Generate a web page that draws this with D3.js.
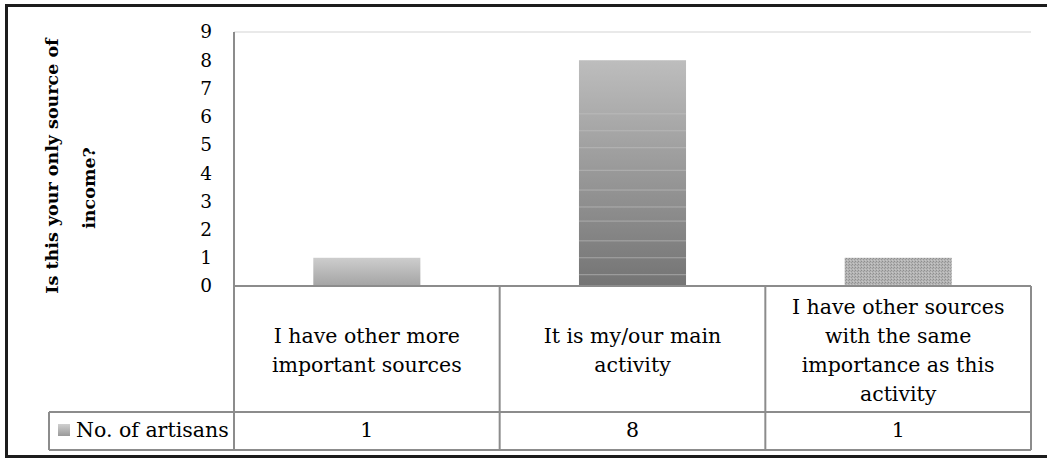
<!DOCTYPE html>
<html>
<head>
<meta charset="utf-8">
<script src="https://cdn.jsdelivr.net/npm/d3@7"></script>
<style>
  html, body { margin: 0; padding: 0; background: #fff; }
  svg { display: block; }
  text { font-family: "DejaVu Serif", "Liberation Serif", serif; fill: #000; }
</style>
</head>
<body>
<svg id="chart" width="1047" height="460"></svg>
<script>
// Survey answers and counts
const categories = [
  "I have other more important sources",
  "It is my/our main activity",
  "I have other sources with the same importance as this activity"
];
const categoryLines = [
  ["I have other more", "important sources"],
  ["It is my/our main", "activity"],
  ["I have other sources", "with the same", "importance as this", "activity"]
];
const artisans = [1, 8, 1];
const seriesName = "No. of artisans";
const yTickValues = [0, 1, 2, 3, 4, 5, 6, 7, 8, 9];
const yTitleLines = ["Is this your only source of", "income?"];

const svg = d3.select("#chart");
const defs = svg.append("defs");

// Plot geometry
const plot = { left: 234, right: 1031, top: 32, bottom: 286 };
const table = { catBottom: 412, bottom: 450, legendLeft: 49 };
const tableFont = 20.5;

const x = d3.scaleBand().domain(categories).range([plot.left, plot.right]).paddingInner(0).paddingOuter(0);
const y = d3.scaleLinear().domain([0, 9]).range([plot.bottom, plot.top]);
const barW = x.bandwidth() * 0.403;

// Bar fills
const g1 = defs.append("linearGradient").attr("id", "fill0").attr("x1", 0).attr("y1", 0).attr("x2", 0).attr("y2", 1);
g1.append("stop").attr("offset", 0).attr("stop-color", "#cdcdcd");
g1.append("stop").attr("offset", 1).attr("stop-color", "#a4a4a4");

const g2 = defs.append("linearGradient").attr("id", "fill1").attr("x1", 0).attr("y1", 0).attr("x2", 0).attr("y2", 1);
g2.append("stop").attr("offset", 0).attr("stop-color", "#bdbdbd");
g2.append("stop").attr("offset", 1).attr("stop-color", "#747474");

const p3 = defs.append("pattern").attr("id", "fill2").attr("width", 3).attr("height", 3).attr("patternUnits", "userSpaceOnUse");
p3.append("rect").attr("width", 3).attr("height", 3).attr("fill", "#b4b4b4");
p3.append("rect").attr("width", 1).attr("height", 1).attr("fill", "#8e8e8e");
p3.append("rect").attr("x", 2).attr("y", 1).attr("width", 1).attr("height", 1).attr("fill", "#9a9a9a");
p3.append("rect").attr("x", 1).attr("y", 2).attr("width", 1).attr("height", 1).attr("fill", "#c6c6c6");

const legendGrad = defs.append("linearGradient").attr("id", "legendFill").attr("x1", 0).attr("y1", 0).attr("x2", 0).attr("y2", 1);
legendGrad.append("stop").attr("offset", 0).attr("stop-color", "#d0d0d0");
legendGrad.append("stop").attr("offset", 1).attr("stop-color", "#9a9a9a");

// Top gridline at the axis maximum
svg.append("line")
  .attr("x1", plot.left).attr("x2", plot.right)
  .attr("y1", y(9)).attr("y2", y(9))
  .attr("stroke", "#e2e2e2").attr("stroke-width", 1.5);

// Bars
svg.append("g").selectAll("rect")
  .data(artisans)
  .join("rect")
  .attr("x", (d, i) => x(categories[i]) + (x.bandwidth() - barW) / 2)
  .attr("y", d => y(d))
  .attr("width", barW)
  .attr("height", d => y(0) - y(d))
  .attr("fill", (d, i) => `url(#fill${i})`);

// Faint streaks across the tall bar
const streakYs = [6.1, 5.5, 4.9, 4.1, 3.4, 2.8, 2.3, 1.6, 1.0, 0.4];
svg.append("g").selectAll("line")
  .data(streakYs)
  .join("line")
  .attr("x1", x(categories[1]) + (x.bandwidth() - barW) / 2)
  .attr("x2", x(categories[1]) + (x.bandwidth() + barW) / 2)
  .attr("y1", d => y(d)).attr("y2", d => y(d))
  .attr("stroke", "#c4c4c4").attr("stroke-width", 1).attr("opacity", 0.6);

// Y axis labels
const yAxis = d3.axisLeft(y).tickValues(yTickValues).tickSize(0).tickPadding(22).tickFormat(d3.format("d"));
const yG = svg.append("g").attr("transform", `translate(${plot.left},0)`).call(yAxis);
yG.select(".domain").remove();
yG.selectAll("text").attr("font-size", 18.5).attr("font-family", "DejaVu Serif, serif").attr("fill", "#000");

// Axis title (two rotated lines)
const titleG = svg.append("g").attr("transform", "translate(58,166) rotate(-90)");
titleG.selectAll("text")
  .data(yTitleLines)
  .join("text")
  .attr("x", (d, i) => i === 0 ? 0 : -22)
  .attr("y", (d, i) => i * 37)
  .attr("text-anchor", "middle")
  .attr("font-weight", "bold")
  .attr("font-size", 17.5)
  .text(d => d);

// Data table grid
const gridColor = "#8c8c8c";
const grid = svg.append("g").attr("stroke", gridColor).attr("stroke-width", 2).attr("fill", "none");
// vertical axis line through the table
grid.append("line").attr("x1", plot.left).attr("x2", plot.left).attr("y1", plot.top).attr("y2", table.bottom);
// baseline / top of table
grid.append("line").attr("x1", plot.left).attr("x2", plot.right).attr("y1", y(0)).attr("y2", y(0));
// divider between category row and value row
grid.append("line").attr("x1", table.legendLeft).attr("x2", plot.right).attr("y1", table.catBottom).attr("y2", table.catBottom);
// bottom edge
grid.append("line").attr("x1", table.legendLeft).attr("x2", plot.right).attr("y1", table.bottom).attr("y2", table.bottom);
// legend cell left edge
grid.append("line").attr("x1", table.legendLeft).attr("x2", table.legendLeft).attr("y1", table.catBottom).attr("y2", table.bottom);
// column dividers
grid.selectAll(".col")
  .data(categories.slice(1).concat([null]))
  .join("line")
  .attr("class", "col")
  .attr("x1", d => d ? x(d) : plot.right)
  .attr("x2", d => d ? x(d) : plot.right)
  .attr("y1", y(0)).attr("y2", table.bottom);

// Category labels
const lineH = 29;
const catG = svg.append("g");
categories.forEach((c, i) => {
  const lines = categoryLines[i];
  const cx = x(c) + x.bandwidth() / 2;
  const cy = (y(0) + table.catBottom) / 2 + 1.5;
  const t = catG.append("text")
    .attr("text-anchor", "middle")
    .attr("font-size", tableFont);
  lines.forEach((ln, j) => {
    t.append("tspan")
      .attr("x", cx)
      .attr("y", cy + (j - (lines.length - 1) / 2) * lineH)
      .attr("dy", "0.35em")
      .text(ln);
  });
});

// Value row
svg.append("g").selectAll("text")
  .data(artisans)
  .join("text")
  .attr("x", (d, i) => x(categories[i]) + x.bandwidth() / 2)
  .attr("y", (table.catBottom + table.bottom) / 2 - 1)
  .attr("dy", "0.35em")
  .attr("text-anchor", "middle")
  .attr("font-size", tableFont)
  .text(d => d);

// Legend key in the table
svg.append("rect")
  .attr("x", 58).attr("y", 424).attr("width", 12).attr("height", 12)
  .attr("fill", "url(#legendFill)");
svg.append("text")
  .attr("x", 76).attr("y", (table.catBottom + table.bottom) / 2 - 1)
  .attr("dy", "0.35em")
  .attr("font-size", tableFont)
  .text(seriesName);

// Outer frame
svg.append("path")
  .attr("d", "M1047,5.5 H6.5 V456.5 H1047")
  .attr("fill", "none").attr("stroke", "#1c1c1c").attr("stroke-width", 3);
</script>
</body>
</html>
